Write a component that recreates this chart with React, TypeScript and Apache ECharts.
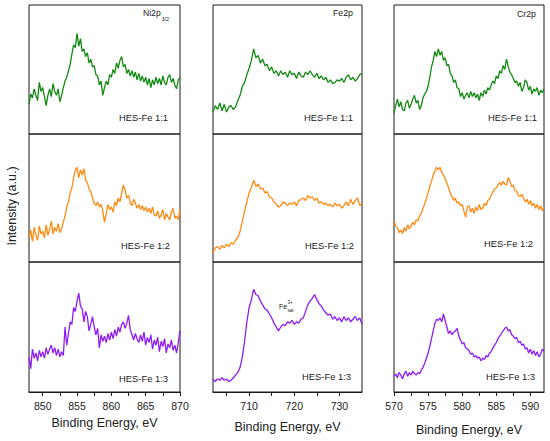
import React, { useEffect, useRef } from "react";
import * as echarts from "echarts";

const NI_START = 848;
const NI_STEP = 0.25;
const FE_START = 702;
const FE_STEP = 0.5;
const CR_START = 570;
const CR_STEP = 0.25;

const ni11 = [23,31,28,35,30,26,40,33,36,29,22,30,35,29,39,33,30,35,25,30,36,41,44,49,54,62,69,67,78,68,74,64,66,60,63,55,58,52,53,46,45,38,41,30,36,41,38,46,44,50,47,55,51,57,60,52,54,47,50,45,49,44,48,42,47,41,45,40,44,38,43,36,42,38,44,39,43,38,45,40,38,44,46,40,43,38,35,42,44];
const ni12 = [19,25,16,27,21,17,28,22,24,19,29,21,25,32,22,27,24,30,23,26,31,36,43,47,54,58,66,72,74,66,72,68,73,64,62,57,55,50,46,44,47,43,45,40,31,38,45,41,43,39,47,44,50,47,54,60,56,50,52,46,44,49,46,42,45,41,44,40,43,39,42,38,43,37,36,40,34,37,41,33,38,35,33,39,42,34,36,33,41];
const ni13 = [27,18,33,26,30,24,32,27,31,26,34,29,33,36,30,34,28,33,27,31,28,50,36,45,54,52,65,62,70,76,66,64,54,62,58,47,52,58,50,44,49,34,44,39,43,38,45,40,46,41,48,43,50,46,52,54,49,53,59,48,44,40,45,41,38,44,39,46,36,42,38,44,33,40,36,42,31,39,35,41,30,37,34,40,32,36,30,38,47];

const fe11 = [17,22,19,24,18,23,17,21,22,19,21,26,30,37,40,46,51,57,66,59,61,55,58,53,54,49,52,47,49,45,49,46,48,44,49,46,47,43,48,45,44,48,46,49,46,44,47,43,45,42,44,40,42,39,40,42,41,43,40,44,46,42,44,41,43,46,47];
const fe12 = [7,11,12,10,13,11,14,12,15,14,17,19,24,32,40,47,54,58,64,59,61,57,58,54,55,51,50,47,45,43,44,47,46,44,46,45,47,44,48,49,50,48,52,50,51,48,50,46,47,45,46,44,45,43,46,44,45,42,44,47,44,49,45,48,50,44,46];
const fe13 = [10,8,10,9,11,9,10,8,9,11,13,15,19,27,39,54,65,71,79,75,74,70,67,64,63,60,57,53,50,47,50,52,51,54,53,55,52,54,53,56,57,62,67,70,72,75,71,68,66,63,61,59,60,56,58,55,57,54,58,55,57,54,56,58,55,57,52];

const cr11 = [16,22,27,21,25,19,18,24,26,20,23,27,30,24,26,19,22,28,31,33,37,44,52,57,64,60,66,61,64,57,59,53,54,47,45,40,42,36,35,29,32,27,30,32,28,33,29,32,28,31,26,32,29,34,31,36,34,38,41,39,45,43,49,47,53,50,58,52,48,46,43,40,41,37,40,33,36,42,40,34,37,31,35,33,36,30,34,32,35];
const cr12 = [32,28,27,23,25,22,27,24,29,26,28,31,29,33,32,36,38,42,45,50,54,59,63,68,71,74,72,74,70,68,65,62,58,54,51,48,50,46,47,44,45,40,35,43,44,39,42,38,43,40,45,41,42,46,44,48,49,52,55,57,58,60,62,60,63,61,60,66,63,59,60,56,55,52,51,53,50,47,49,45,48,44,46,42,45,41,44,40,43];
const cr13 = [12,14,11,15,13,10,14,16,12,15,13,16,14,13,15,14,17,19,22,26,30,35,41,47,53,56,55,57,54,60,55,50,45,47,44,46,47,49,43,40,37,38,34,33,32,29,30,27,28,26,27,24,26,25,28,27,30,31,34,36,38,41,43,45,47,49,50,47,48,44,43,41,42,38,39,36,37,33,34,30,33,29,32,28,31,27,29,33,31];

const NI_TICKS = [850, 852.5, 855, 857.5, 860, 862.5, 865, 867.5, 870];
const NI_LABELS = [850, 855, 860, 865, 870];
const FE_TICKS = [705, 710, 715, 720, 725, 730];
const FE_LABELS = [710, 720, 730];
const CR_TICKS = [570, 572.5, 575, 577.5, 580, 582.5, 585, 587.5, 590];
const CR_LABELS = [570, 575, 580, 585, 590];

const SAMPLE_LABELS = ["HES-Fe 1:1", "HES-Fe 1:2", "HES-Fe 1:3"];
const COLORS = ["#138a13", "#ff8a12", "#8f1cf5"];

const FONT = "'Liberation Sans', Arial, sans-serif";

function toPairs(start: number, step: number, ys: number[]) {
  return ys.map((y, i) => [+(start + i * step).toFixed(3), y]);
}

export default function App() {
  const ref = useRef<HTMLDivElement>(null);
  useEffect(() => {
    if (!ref.current) return;
    const chart = echarts.init(ref.current, undefined, { renderer: "svg" });

    const cols = [
      { left: 29, width: 151, min: 848, max: 870, ticks: NI_TICKS, labels: NI_LABELS, start: NI_START, step: NI_STEP, data: [ni11, ni12, ni13], nameGap: 24 },
      { left: 213, width: 149, min: 702, max: 735, ticks: FE_TICKS, labels: FE_LABELS, start: FE_START, step: FE_STEP, data: [fe11, fe12, fe13], nameGap: 28 },
      { left: 394, width: 150, min: 570, max: 592, ticks: CR_TICKS, labels: CR_LABELS, start: CR_START, step: CR_STEP, data: [cr11, cr12, cr13], nameGap: 31 },
    ];
    const rows = [
      { top: 5, height: 129 },
      { top: 134, height: 128 },
      { top: 262, height: 130 },
    ];

    const grid: any[] = [];
    const xAxis: any[] = [];
    const yAxis: any[] = [];
    const series: any[] = [];
    let gi = 0;
    rows.forEach((r, ri) => {
      cols.forEach((c) => {
        const bottom = ri === 2;
        grid.push({
          left: c.left, top: r.top, width: c.width, height: r.height,
          show: true, borderColor: "#1a1a1a", borderWidth: 1, backgroundColor: "transparent",
        });
        xAxis.push({
          gridIndex: gi, type: "value", min: c.min, max: c.max,
          axisLine: { show: bottom, onZero: false, lineStyle: { color: "#1a1a1a", width: 1 } },
          axisTick: { show: bottom, customValues: c.ticks, length: 4, lineStyle: { color: "#1a1a1a", width: 1 } },
          axisLabel: { show: bottom, customValues: c.labels, fontSize: 10.5, color: "#222", margin: 8, fontFamily: FONT },
          splitLine: { show: false },
          name: bottom ? "Binding Energy, eV" : "",
          nameLocation: "middle", nameGap: c.nameGap,
          nameTextStyle: { fontSize: 12.5, color: "#222", fontFamily: FONT },
        });
        yAxis.push({
          gridIndex: gi, type: "value", min: 0, max: 100, show: false,
          axisLine: { show: false }, axisTick: { show: false }, axisLabel: { show: false }, splitLine: { show: false },
        });
        series.push({
          type: "line", xAxisIndex: gi, yAxisIndex: gi,
          data: toPairs(c.start, c.step, c.data[ri]),
          showSymbol: false, symbol: "none",
          lineStyle: { color: COLORS[ri], width: 1.3 },
          itemStyle: { color: COLORS[ri] },
        });
        gi++;
      });
    });

    const txt = (x: number, y: number, text: string, size: number, align: string, extra: any = {}) => ({
      type: "text", x, y,
      style: { text, fontSize: size, fill: "#222", fontFamily: FONT, textAlign: align, textVerticalAlign: "middle", ...extra },
      silent: true,
    });

    const labelPos = [
      [[168, 117], [353, 117], [537, 117]],
      [[170, 245], [354, 245], [533, 243]],
      [[168, 378], [351, 376], [535, 376]],
    ];
    const graphic: any[] = [];
    labelPos.forEach((row, ri) => row.forEach(([x, y]) => graphic.push(txt(x, y, SAMPLE_LABELS[ri], 9.4, "right"))));
    graphic.push(txt(143, 13, "Ni2p", 8.6, "left"));
    graphic.push(txt(161.5, 18.5, "3/2", 5.5, "left"));
    graphic.push(txt(353, 13, "Fe2p", 8.8, "right"));
    graphic.push(txt(536, 14, "Cr2p", 8.8, "right"));
    graphic.push(txt(279, 306, "Fe", 7, "left"));
    graphic.push(txt(287.5, 302, "3+", 4.5, "left"));
    graphic.push(txt(287.5, 310, "sat", 4.5, "left"));
    graphic.push({
      type: "text", x: 12, y: 206, rotation: Math.PI / 2,
      style: { text: "Intensity (a.u.)", fontSize: 12.5, fill: "#222", fontFamily: FONT, textAlign: "center", textVerticalAlign: "middle" },
      silent: true,
    });

    chart.setOption({
      animation: false,
      backgroundColor: "#ffffff",
      grid, xAxis, yAxis, series, graphic,
    });
    return () => chart.dispose();
  }, []);

  return (
    <div
      ref={ref}
      style={{ position: "fixed", left: 0, top: 0, width: 550, height: 441, background: "#fff" }}
    />
  );
}
